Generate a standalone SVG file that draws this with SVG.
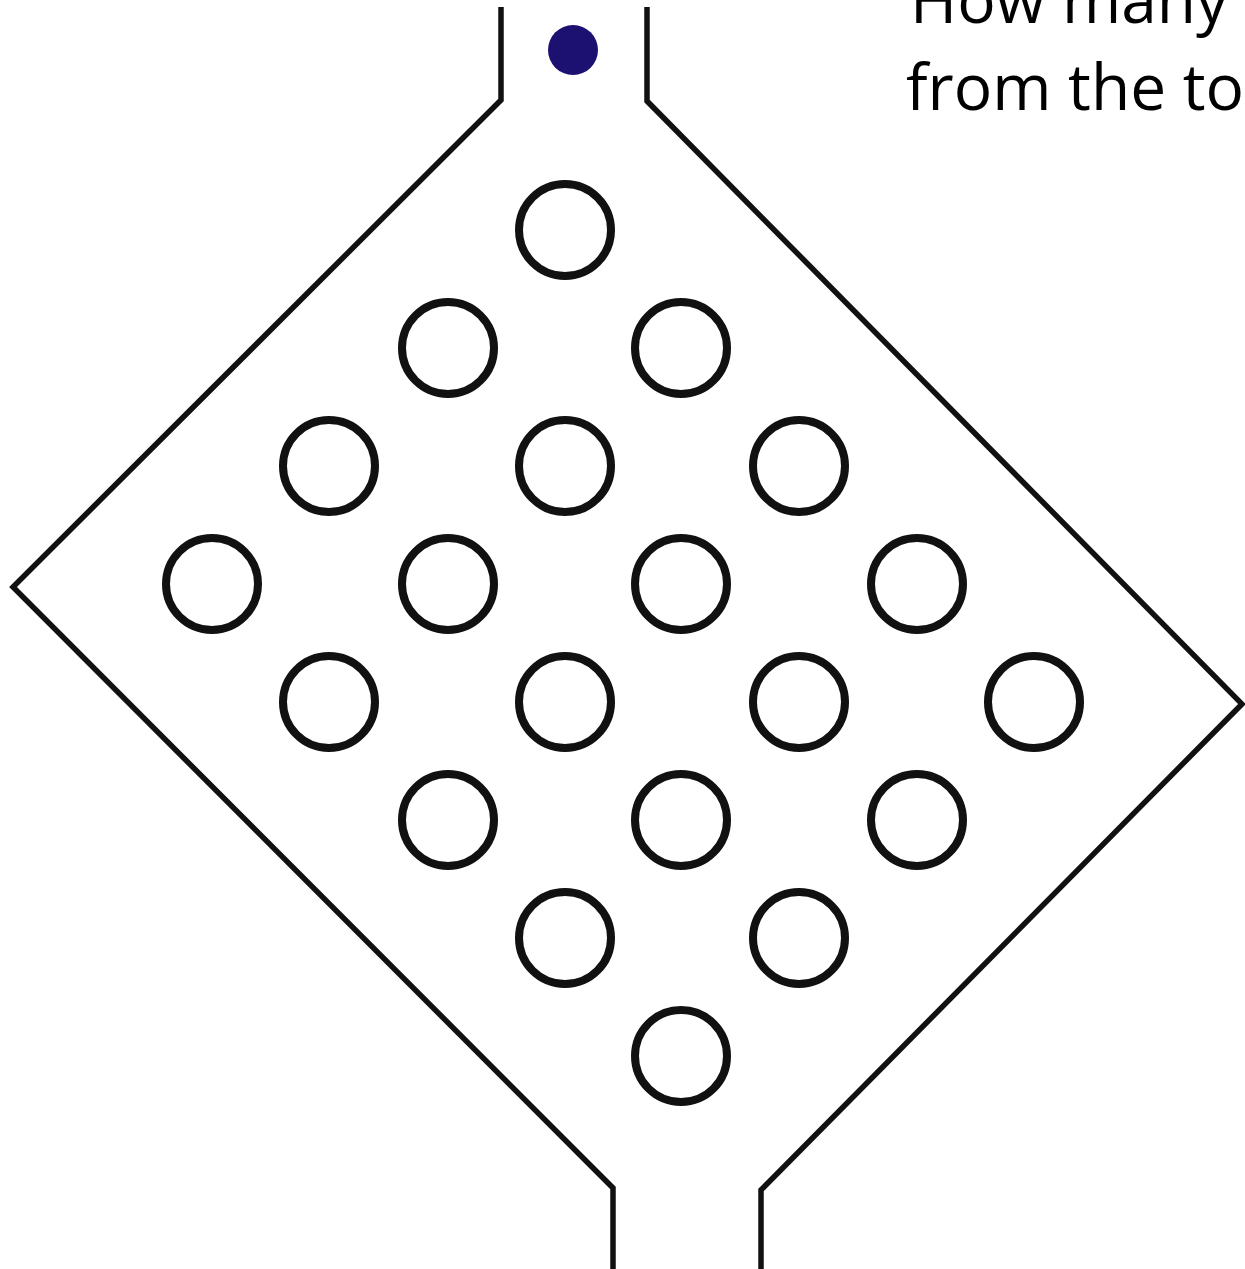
<svg xmlns="http://www.w3.org/2000/svg" width="1245" height="1269" viewBox="0 0 1245 1269">
<style>
.wall{fill:none;stroke:#111;stroke-width:5.5;stroke-linejoin:miter}
.peg{fill:#fff;stroke:#111;stroke-width:8}
.txt{font-family:"Open Sans","Liberation Sans",sans-serif;font-size:64px;fill:#000}
</style>
<rect width="1245" height="1269" fill="#fff"/>
<g id="board">
<polyline class="wall" points="501,7 501,100 13,587 613,1188 613,1269"/>
<polyline class="wall" points="647,7 647,101 1242,704 761,1190 761,1269"/>
</g>
<g id="ball"><circle cx="573" cy="50" r="25" fill="#1c1070"/></g>
<g id="pegs">
<circle class="peg" cx="565" cy="230" r="46"/>
<circle class="peg" cx="448" cy="348" r="46"/>
<circle class="peg" cx="681" cy="348" r="46"/>
<circle class="peg" cx="329" cy="466" r="46"/>
<circle class="peg" cx="565" cy="466" r="46"/>
<circle class="peg" cx="799" cy="466" r="46"/>
<circle class="peg" cx="212" cy="584" r="46"/>
<circle class="peg" cx="448" cy="584" r="46"/>
<circle class="peg" cx="681" cy="584" r="46"/>
<circle class="peg" cx="917" cy="584" r="46"/>
<circle class="peg" cx="329" cy="702" r="46"/>
<circle class="peg" cx="565" cy="702" r="46"/>
<circle class="peg" cx="799" cy="702" r="46"/>
<circle class="peg" cx="1034" cy="702" r="46"/>
<circle class="peg" cx="448" cy="820" r="46"/>
<circle class="peg" cx="681" cy="820" r="46"/>
<circle class="peg" cx="917" cy="820" r="46"/>
<circle class="peg" cx="565" cy="938" r="46"/>
<circle class="peg" cx="799" cy="938" r="46"/>
<circle class="peg" cx="681" cy="1056" r="46"/>
</g>
<g id="question">
<text class="txt" x="910" y="23">How many</text>
<text class="txt" x="906" y="110">from the to</text>
</g>
</svg>
